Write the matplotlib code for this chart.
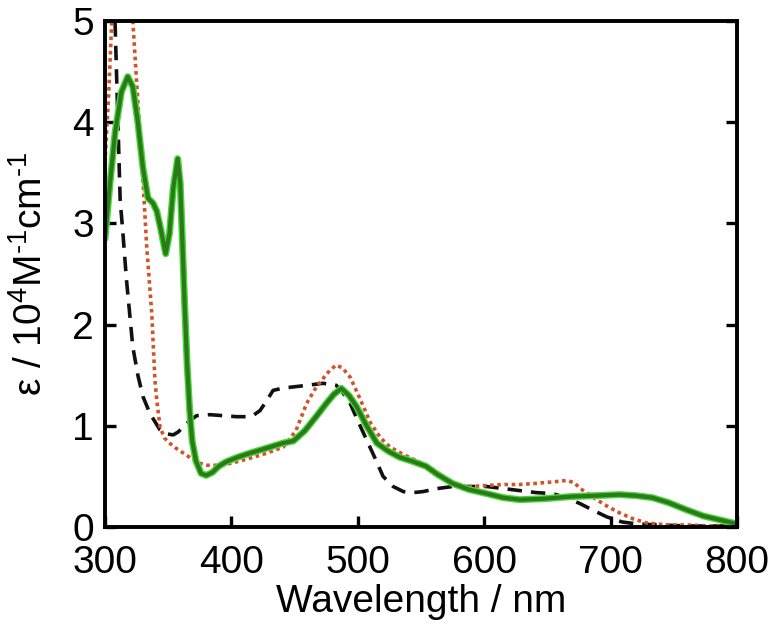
import numpy as np
import matplotlib
matplotlib.use("Agg")
import matplotlib.pyplot as plt

plt.rcParams['font.family'] = ['Liberation Sans', 'DejaVu Sans']
plt.rcParams['mathtext.fontset'] = 'custom'
plt.rcParams['mathtext.rm'] = 'Liberation Sans'
plt.rcParams['mathtext.it'] = 'Liberation Sans'

# green solid spectrum
green_x = [300, 304, 308, 313, 318, 322, 326, 330, 334, 338, 341, 344, 348, 351, 354,
           357.5, 359.5, 361, 363, 365, 367, 369, 372, 376, 380, 385, 390, 396,
           405, 414.7, 428, 441, 449, 458, 467, 475, 481, 487, 493, 499, 507, 515,
           524, 533, 543, 554, 563, 575, 588, 602, 615, 628, 648, 668, 688, 707,
           720, 733, 746, 760, 773, 786.5, 800]
green_y = [2.85, 3.4, 3.9, 4.3, 4.45, 4.35, 4.0, 3.55, 3.25, 3.2, 3.12, 2.95, 2.70, 2.9,
           3.35, 3.64, 3.4, 2.9, 2.2, 1.6, 1.15, 0.85, 0.65, 0.53, 0.51, 0.54, 0.6, 0.645,
           0.69, 0.73, 0.78, 0.83, 0.85, 0.95, 1.09, 1.22, 1.31, 1.37, 1.30, 1.19, 1.0,
           0.83, 0.75, 0.69, 0.65, 0.60, 0.52, 0.43, 0.37, 0.33, 0.29, 0.27, 0.28, 0.30,
           0.31, 0.32, 0.31, 0.29, 0.24, 0.17, 0.11, 0.07, 0.03]

# red dotted spectrum
red_x = [300, 303, 306, 309, 313, 318, 322, 326, 330, 333, 337, 339.5, 341, 343.5,
         347, 351, 356, 362, 368, 375, 381, 388, 400, 414.7, 428, 441, 451, 459.5,
         466, 472.7, 478, 483, 488, 494, 502, 510, 518, 525.5, 537, 549, 562,
         575, 589, 602, 615, 628, 640, 649, 658, 665, 671, 676, 682, 689, 698, 707,
         718, 728.5, 745, 760, 780, 800]
red_y = [3.6, 4.3, 5.2, 5.9, 6.2, 5.9, 5.0, 4.2, 3.43, 2.77, 2.11, 1.45, 1.25, 0.99,
         0.88, 0.83, 0.78, 0.73, 0.68, 0.63, 0.61, 0.61, 0.63, 0.68, 0.73, 0.79, 0.95,
         1.22, 1.36, 1.47, 1.55, 1.60, 1.57, 1.48, 1.26, 1.03, 0.88, 0.79, 0.71, 0.64,
         0.55, 0.41, 0.40, 0.41, 0.42, 0.42, 0.43, 0.44, 0.45, 0.46, 0.44, 0.38, 0.33,
         0.27, 0.20, 0.14, 0.08, 0.04, 0.02, 0.02, 0.01, 0.01]

# black dashed spectrum
black_x = [304, 308, 310, 312, 314, 317, 322, 326, 330, 335.6, 343.5, 349, 354, 358,
           362, 367, 372.5, 383, 393.6, 404, 414.7, 418, 422.6, 428, 433, 440, 446,
           460, 472.5, 483, 488, 494, 500, 507, 514, 520, 528, 536, 544, 551.6, 563,
           575, 588, 602, 615, 628, 641, 654, 665, 676, 687, 697, 709, 720.6, 740,
           760, 780, 800]
black_y = [5.4, 4.97, 4.1, 3.23, 2.93, 2.44, 1.78, 1.5, 1.29, 1.12, 0.96, 0.92, 0.91,
           0.94, 0.99, 1.05, 1.10, 1.11, 1.10, 1.09, 1.09, 1.11, 1.15, 1.25, 1.35, 1.37,
           1.38, 1.40, 1.42, 1.40, 1.33, 1.22, 1.05, 0.86, 0.67, 0.50, 0.40, 0.35, 0.34,
           0.35, 0.38, 0.40, 0.40, 0.40, 0.38, 0.36, 0.34, 0.33, 0.29, 0.23, 0.16, 0.10,
           0.05, 0.03, 0.02, 0.01, 0.01, 0.01]

fig = plt.figure(figsize=(7.75, 6.42), dpi=100)
ax = fig.add_axes([105/775, 1-527/642, (737-105)/775, (527-21)/642])

ax.plot(black_x, black_y, color='#111111', lw=2.6, ls=(0, (4, 2.5)))
ax.plot(red_x, red_y, color='#d2522a', lw=2.6, ls=(0, (1, 1)))
ax.plot(green_x, green_y, color='#4ad63a', lw=5.0, solid_capstyle='round')
ax.plot(green_x, green_y, color='#2a7a1a', lw=3.0, solid_capstyle='round')

ax.set_xlim(300, 800)
ax.set_ylim(0, 5)
ax.set_xticks([300, 400, 500, 600, 700, 800])
ax.set_yticks([0, 1, 2, 3, 4, 5])

for s in ax.spines.values():
    s.set_linewidth(2.8)
ax.tick_params(direction='in', length=8, width=2.4, labelsize=28, pad=8,
               right=True, top=False)
ax.tick_params(axis='x', pad=13)

ax.set_xlabel('Wavelength / nm', fontsize=28, labelpad=2)
ax.set_ylabel(r'ε / 10$^{4}$M$^{\text{-1}}$cm$^{\text{-1}}$', fontsize=28, labelpad=16)

plt.savefig('out.png', dpi=100)
